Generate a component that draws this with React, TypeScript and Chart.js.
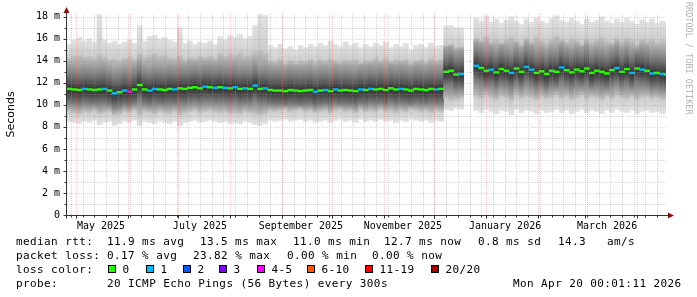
import React, { useEffect, useRef } from 'react';
import { Chart, registerables } from 'chart.js';

Chart.register(...registerables);

// x positions: days relative to 2025-05-01 (UTC), one column every 3 days
const START_DAY = -4;
const STEP_DAYS = 3;
const X_MIN = -5.4;
const X_MAX = 352.3;

// values in ms (axis shows "m" = milli-seconds)
const MAX: (number | null)[] = [
  15.5, 15.9, 16.1, 15.8, 16.0, 15.7, 18.2, 15.9, 15.6, 15.8,
  15.5, 15.7, 15.9, 15.6, 17.2, 15.8, 16.2, 16.3, 16.0, 16.1,
  15.9, 15.7, 17.0, 15.6, 15.8, 15.5, 15.7, 15.6, 15.8, 15.5,
  16.2, 15.9, 16.3, 16.1, 16.4, 16.0, 16.2, 17.2, 18.2, 18.1,
  15.4, 15.2, 15.5, 15.1, 15.3, 15.0, 15.4, 15.2, 15.5, 15.3,
  15.6, 15.4, 15.8, 15.5, 15.3, 15.7, 15.4, 15.6, 15.2, 15.5,
  15.3, 15.6, 15.4, 15.7, 15.2, 15.5, 15.3, 15.6, 15.0, 15.4,
  15.5, 15.2, 15.6, 15.3, 15.4,
  17.2, 17.2, 17.0, 17.0,
  null, null,
  17.9, 17.6, 18.1, 17.5, 17.8, 17.4, 17.7, 18.0, 17.6, 17.3,
  17.8, 17.5, 17.9, 17.6, 17.4, 17.8, 18.1, 17.7, 17.5, 17.9,
  17.6, 17.3, 17.8, 17.5, 17.7, 18.0, 17.6, 17.4, 17.8, 17.5,
  17.9, 17.6, 17.3, 17.7, 17.5, 17.8, 17.4, 17.6, 17.5,
];

const HI: (number | null)[] = [
  14.2, 14.4, 14.5, 14.3, 14.4, 14.2, 14.6, 14.3, 14.1, 14.2,
  14.0, 14.2, 14.3, 14.1, 14.6, 14.3, 14.5, 14.6, 14.4, 14.5,
  14.3, 14.2, 14.5, 14.1, 14.3, 14.2, 14.4, 14.3, 14.4, 14.2,
  14.6, 14.4, 14.6, 14.5, 14.7, 14.4, 14.5, 14.8, 14.9, 14.7,
  14.0, 13.9, 14.1, 13.8, 14.0, 13.8, 14.0, 13.9, 14.1, 13.9,
  14.1, 14.0, 14.2, 14.0, 13.9, 14.1, 14.0, 14.1, 13.8, 14.0,
  14.0, 14.2, 14.0, 14.2, 13.9, 14.1, 14.0, 14.1, 13.8, 14.0,
  14.1, 13.9, 14.2, 14.0, 14.1,
  15.4, 15.5, 15.2, 15.3,
  null, null,
  16.0, 15.8, 16.2, 15.7, 15.9, 15.6, 15.9, 16.1, 15.8, 15.5,
  16.0, 15.7, 16.1, 15.8, 15.6, 15.9, 16.2, 15.9, 15.7, 16.0,
  15.8, 15.5, 15.9, 15.7, 15.9, 16.1, 15.8, 15.6, 16.0, 15.7,
  16.0, 15.8, 15.5, 15.9, 15.7, 15.9, 15.6, 15.8, 15.7,
];

const MEDIAN: (number | null)[] = [
  11.45, 11.4, 11.35, 11.45, 11.4, 11.35, 11.4, 11.45, 11.3, 11.05,
  11.15, 11.3, 11.2, 11.4, 11.8, 11.4, 11.3, 11.45, 11.4, 11.35,
  11.45, 11.4, 11.5, 11.45, 11.55, 11.6, 11.5, 11.65, 11.6, 11.55,
  11.6, 11.55, 11.5, 11.6, 11.45, 11.5, 11.45, 11.75, 11.45, 11.5,
  11.35, 11.3, 11.3, 11.25, 11.35, 11.3, 11.25, 11.3, 11.35, 11.2,
  11.3, 11.35, 11.25, 11.4, 11.3, 11.35, 11.3, 11.25, 11.4, 11.35,
  11.45, 11.4, 11.45, 11.35, 11.5, 11.4, 11.45, 11.4, 11.3, 11.45,
  11.4, 11.35, 11.45, 11.4, 11.45,
  13.0, 13.1, 12.75, 12.8,
  null, null,
  13.55, 13.35, 13.1, 13.2, 12.95, 13.25, 13.1, 12.9, 13.3, 13.0,
  13.45, 13.2, 12.9, 13.05, 12.8, 13.1, 13.0, 13.4, 13.15, 12.95,
  13.2, 13.05, 13.3, 12.9, 13.1, 13.0, 12.85, 13.15, 13.35, 13.0,
  13.25, 12.9, 13.3, 13.2, 13.1, 12.85, 12.9, 12.8, 12.75,
];

const LO: (number | null)[] = [
  9.4, 9.3, 9.2, 9.4, 9.3, 9.5, 9.2, 9.3, 9.4, 9.1,
  9.2, 9.4, 9.3, 9.5, 9.1, 9.4, 9.3, 9.2, 9.4, 9.3,
  9.2, 9.4, 9.1, 9.3, 9.4, 9.5, 9.3, 9.4, 9.5, 9.4,
  9.3, 9.4, 9.2, 9.3, 9.2, 9.4, 9.3, 9.2, 9.1, 9.2,
  9.5, 9.4, 9.5, 9.6, 9.4, 9.5, 9.6, 9.4, 9.5, 9.3,
  9.4, 9.5, 9.3, 9.5, 9.6, 9.4, 9.5, 9.3, 9.6, 9.4,
  9.5, 9.4, 9.6, 9.4, 9.5, 9.3, 9.5, 9.4, 9.6, 9.5,
  9.4, 9.5, 9.3, 9.5, 9.4,
  10.6, 10.4, 10.5, 10.6,
  null, null,
  10.8, 10.6, 10.9, 10.7, 10.5, 10.8, 10.7, 10.4, 10.9, 10.6,
  10.8, 10.7, 10.5, 10.8, 10.6, 10.7, 10.9, 10.6, 10.8, 10.5,
  10.7, 10.9, 10.6, 10.8, 10.7, 10.5, 10.8, 10.6, 10.9, 10.7,
  10.6, 10.8, 10.5, 10.7, 10.8, 10.6, 10.7, 10.5, 10.6,
];

const MIN: (number | null)[] = [
  8.5, 8.4, 8.3, 8.5, 8.4, 8.6, 8.2, 8.4, 8.5, 8.1,
  8.3, 8.5, 8.4, 8.6, 8.1, 8.5, 8.4, 8.3, 8.5, 8.4,
  8.3, 8.5, 8.1, 8.4, 8.5, 8.6, 8.4, 8.5, 8.6, 8.5,
  8.4, 8.5, 8.3, 8.4, 8.3, 8.5, 8.4, 8.2, 8.1, 8.3,
  8.6, 8.5, 8.6, 8.7, 8.5, 8.6, 8.7, 8.5, 8.6, 8.4,
  8.5, 8.6, 8.4, 8.6, 8.7, 8.5, 8.6, 8.4, 8.7, 8.5,
  8.6, 8.5, 8.7, 8.5, 8.6, 8.4, 8.6, 8.5, 8.7, 8.6,
  8.5, 8.6, 8.4, 8.6, 8.5,
  9.6, 9.5, 9.7, 9.6,
  null, null,
  9.5, 9.3, 9.6, 9.4, 9.2, 9.5, 9.4, 9.1, 9.6, 9.3,
  9.5, 9.4, 9.2, 9.5, 9.3, 9.4, 9.6, 9.3, 9.5, 9.2,
  9.4, 9.6, 9.3, 9.5, 9.4, 9.2, 9.5, 9.3, 9.6, 9.4,
  9.3, 9.5, 9.2, 9.4, 9.5, 9.3, 9.4, 9.2, 9.3,
];

// lost pings (of 20) per column
const LOSS: number[] = [
  0, 0, 0, 1, 0, 0, 0, 1, 0, 1,
  0, 1, 4, 0, 0, 0, 1, 1, 0, 0,
  0, 1, 0, 0, 0, 0, 0, 1, 0, 1,
  0, 1, 0, 1, 0, 1, 0, 1, 0, 1,
  0, 0, 0, 0, 0, 0, 0, 0, 0, 1,
  0, 1, 0, 1, 0, 0, 0, 0, 1, 0,
  1, 0, 0, 0, 0, 0, 1, 0, 0, 0,
  0, 0, 0, 1, 0,
  0, 0, 0, 1,
  0, 0,
  1, 0, 0, 1, 0, 0, 0, 1, 0, 0,
  1, 1, 0, 0, 0, 0, 0, 1, 0, 0,
  0, 0, 0, 0, 0, 0, 0, 0, 1, 0,
  0, 1, 0, 1, 0, 1, 0, 1, 0,
];

const LOSS_LEVELS = ['0', '1', '2', '3', '4-5', '6-10', '11-19', '20/20'];
const LOSS_COLORS = ['#26ff00', '#00b8ff', '#0059ff', '#7e00ff', '#ff00ff', '#ff5500', '#ff0000', '#a10000'];

const X_LABEL_DAYS = [14.9, 74.0, 134.3, 195.2, 256.2, 317.1];
const X_LABELS = ['May 2025', 'July 2025', 'September 2025', 'November 2025', 'January 2026', 'March 2026'];

const MEDIAN_HALF = 0.08;
const MINOR_GRID = 'rgba(150,150,150,0.4)';
const MAJOR_GRID = 'rgba(240,90,90,0.3)';
const AXIS_COLOR = '#333333';
const ARROW_COLOR = '#8a1010';

function dayOf(k: number) {
  return START_DAY + k * STEP_DAYS;
}

function lossColor(n: number) {
  if (n <= 3) return LOSS_COLORS[n];
  if (n <= 5) return LOSS_COLORS[4];
  if (n <= 10) return LOSS_COLORS[5];
  if (n <= 19) return LOSS_COLORS[6];
  return LOSS_COLORS[7];
}

const CORE_STOPS: [number, string][] = [
  [2.2, '#a2a2a2'],
  [1.3, '#7a7a7a'],
  [0.6, '#545454'],
  [0, '#303030'],
  [-0.6, '#4e4e4e'],
  [-1.2, '#787878'],
];

function outerFill(c: any) {
  const raw = c.raw;
  if (!raw) return '#dcdcdc';
  const k = raw.k;
  const ys = c.chart.scales.y;
  const top = ys.getPixelForValue(MAX[k]);
  const bot = ys.getPixelForValue(MIN[k]);
  if (!(bot > top)) return '#dcdcdc';
  const f = (v: number) => Math.min(1, Math.max(0, (ys.getPixelForValue(v) - top) / (bot - top)));
  const g = c.chart.ctx.createLinearGradient(0, top, 0, bot);
  g.addColorStop(0, '#e2e2e2');
  g.addColorStop(f(HI[k] as number), '#cbcbcb');
  g.addColorStop(f(LO[k] as number), '#cbcbcb');
  g.addColorStop(1, '#e2e2e2');
  return g;
}

function innerFill(c: any) {
  const raw = c.raw;
  if (!raw) return '#888888';
  const k = raw.k;
  const ys = c.chart.scales.y;
  const hi = HI[k] as number;
  const lo = LO[k] as number;
  const med = MEDIAN[k] as number;
  const top = ys.getPixelForValue(hi);
  const bot = ys.getPixelForValue(lo);
  if (!(bot > top)) return '#888888';
  const f = (v: number) => Math.min(1, Math.max(0, (ys.getPixelForValue(v) - top) / (bot - top)));
  const g = c.chart.ctx.createLinearGradient(0, top, 0, bot);
  g.addColorStop(0, '#c0c0c0');
  for (const [d, col] of CORE_STOPS) {
    const v = med + d;
    if (v < hi && v > lo) g.addColorStop(f(v), col);
  }
  g.addColorStop(1, '#c0c0c0');
  return g;
}

const gridPlugin = {
  id: 'rrdGrid',
  afterDatasetsDraw(chart: any) {
    const { ctx, chartArea: a, scales } = chart;
    const xs = scales.x;
    const ys = scales.y;
    ctx.save();
    ctx.lineWidth = 1;
    ctx.setLineDash([1, 1]);
    const yt: number[] = ys.ticks.map((t: any) => t.value);
    const hLines: [number, boolean][] = [];
    yt.forEach((v: number) => {
      if (v > 0) hLines.push([v, true]);
      hLines.push([v + 1, false]);
    });
    for (const [v, major] of hLines) {
      if (v <= 0 || v > ys.max) continue;
      const py = Math.round(ys.getPixelForValue(v)) + 0.5;
      ctx.strokeStyle = major ? MAJOR_GRID : MINOR_GRID;
      ctx.beginPath();
      ctx.moveTo(a.left, py);
      ctx.lineTo(a.right, py);
      ctx.stroke();
    }
    const base = Date.UTC(2025, 4, 1);
    const months: number[] = [];
    for (let i = 0; i < 15; i++) {
      const d = (Date.UTC(2025, 3 + i, 1) - base) / 864e5;
      if (d > X_MIN && d < X_MAX) months.push(d);
    }
    const weeks: number[] = [];
    for (let d = -3; d < X_MAX; d += 7) if (d > X_MIN) weeks.push(d);
    const vline = (d: number, col: string) => {
      const px = Math.round(xs.getPixelForValue(d)) + 0.5;
      ctx.strokeStyle = col;
      ctx.beginPath();
      ctx.moveTo(px, a.top);
      ctx.lineTo(px, a.bottom);
      ctx.stroke();
    };
    weeks.forEach((d) => vline(d, MINOR_GRID));
    months.forEach((d) => vline(d, MAJOR_GRID));
    ctx.setLineDash([]);

    const bx = Math.round(a.left) - 0.5;
    const by = Math.round(a.bottom) + 0.5;
    ctx.strokeStyle = AXIS_COLOR;
    for (const [v, major] of hLines) {
      if (v < 0 || v > ys.max) continue;
      const py = Math.round(ys.getPixelForValue(v)) + 0.5;
      ctx.beginPath();
      ctx.moveTo(bx - (major ? 3 : 2), py);
      ctx.lineTo(bx, py);
      ctx.stroke();
    }
    for (const d of weeks.concat(months)) {
      const px = Math.round(xs.getPixelForValue(d)) + 0.5;
      ctx.beginPath();
      ctx.moveTo(px, by);
      ctx.lineTo(px, by + (months.includes(d) ? 3 : 2));
      ctx.stroke();
    }
    ctx.beginPath();
    ctx.moveTo(bx, by + 3);
    ctx.lineTo(bx, a.top - 4);
    ctx.moveTo(bx - 3, by);
    ctx.lineTo(a.right + 3, by);
    ctx.stroke();
    ctx.fillStyle = ARROW_COLOR;
    ctx.beginPath();
    ctx.moveTo(bx - 3, a.top - 1);
    ctx.lineTo(bx + 3, a.top - 1);
    ctx.lineTo(bx, a.top - 7);
    ctx.closePath();
    ctx.fill();
    ctx.beginPath();
    ctx.moveTo(a.right + 2, by - 3);
    ctx.lineTo(a.right + 2, by + 3);
    ctx.lineTo(a.right + 8, by);
    ctx.closePath();
    ctx.fill();
    ctx.restore();
  },
};

const MONO = '"DejaVu Sans Mono", monospace';

type Piece = [number, number, string];
const LEGEND_PIECES: Piece[] = [
  [16, 245, 'median rtt:'],
  [107, 245, '11.9 ms avg'],
  [200, 245, '13.5 ms max'],
  [293, 245, '11.0 ms min'],
  [384, 245, '12.7 ms now'],
  [478, 245, '0.8 ms sd'],
  [558, 245, '14.3'],
  [607, 245, 'am/s'],
  [16, 259, 'packet loss:'],
  [107, 259, '0.17 % avg'],
  [193, 259, '23.82 % max'],
  [287, 259, '0.00 % min'],
  [372, 259, '0.00 % now'],
  [16, 273, 'loss color:'],
  [16, 287, 'probe:'],
  [107, 287, '20 ICMP Echo Pings (56 Bytes) every 300s'],
  [513, 287, 'Mon Apr 20 00:01:11 2026'],
];
const SWATCH_X = [108, 146, 183, 219, 257, 307, 365, 431];

export default function App() {
  const ref = useRef<HTMLCanvasElement>(null);

  useEffect(() => {
    const canvas = ref.current;
    if (!canvas) return;
    const ks = MEDIAN.map((_, k) => k);
    const outer = ks.filter((k) => MAX[k] != null).map((k) => ({ x: dayOf(k), y: [MIN[k], MAX[k]], k }));
    const inner = ks.filter((k) => HI[k] != null).map((k) => ({ x: dayOf(k), y: [LO[k], HI[k]], k }));
    const medKs = ks.filter((k) => MEDIAN[k] != null);
    const med = medKs.map((k) => ({
      x: dayOf(k),
      y: [(MEDIAN[k] as number) - MEDIAN_HALF, (MEDIAN[k] as number) + MEDIAN_HALF],
      k,
    }));
    const medColors = medKs.map((k) => lossColor(LOSS[k]));

    const common = {
      barPercentage: 1,
      categoryPercentage: 1,
      grouped: false,
      borderWidth: 0,
      borderSkipped: false,
      clip: 0,
    };

    const chart = new Chart(canvas, {
      type: 'bar',
      data: {
        datasets: [
          { ...common, label: 'smoke', data: outer as any, backgroundColor: outerFill as any, order: 3 },
          { ...common, label: 'smoke core', data: inner as any, backgroundColor: innerFill as any, order: 2 },
          { ...common, label: 'median rtt', data: med as any, backgroundColor: medColors, order: 1 },
        ],
      },
      options: {
        responsive: false,
        animation: false,
        devicePixelRatio: 1,
        events: [],
        layout: { padding: { left: 0, top: 14, right: 31, bottom: 0 } },
        plugins: { legend: { display: false }, tooltip: { enabled: false } },
        scales: {
          x: {
            type: 'linear',
            offset: false,
            min: X_MIN,
            max: X_MAX,
            grid: { display: false, drawTicks: false, offset: false },
            border: { display: false },
            afterBuildTicks: (s: any) => {
              s.ticks = X_LABEL_DAYS.map((v) => ({ value: v }));
            },
            afterFit: (s: any) => {
              s.height = 82;
            },
            ticks: {
              autoSkip: false,
              maxRotation: 0,
              minRotation: 0,
              padding: 5,
              color: '#000',
              font: { family: MONO, size: 10 },
              callback: (_v: any, i: number) => X_LABELS[i],
            },
          },
          y: {
            type: 'linear',
            min: 0,
            max: 18.25,
            grid: { display: false, drawTicks: false },
            border: { display: false },
            afterFit: (s: any) => {
              s.width = 67;
            },
            ticks: {
              stepSize: 2,
              includeBounds: false,
              padding: 7,
              color: '#000',
              font: { family: MONO, size: 10 },
              callback: (v: any) => (Number(v) === 0 ? '0' : `${v} m`),
            },
            title: {
              display: true,
              text: 'Seconds',
              color: '#000',
              font: { family: '"DejaVu Sans", sans-serif', size: 11 },
              padding: { top: 4.4, bottom: 0 },
            },
          },
        },
      },
      plugins: [gridPlugin],
    } as any);
    return () => chart.destroy();
  }, []);

  const txt = (x: number, base: number, s: string, key: string) => (
    <div
      key={key}
      style={{
        position: 'absolute',
        left: x,
        top: base - 10.5,
        fontFamily: MONO,
        fontSize: 11,
        lineHeight: '14px',
        height: 14,
        letterSpacing: '0.4px',
        whiteSpace: 'pre',
        color: '#000',
      }}
    >
      {s}
    </div>
  );

  return (
    <div
      style={{
        position: 'fixed',
        left: 0,
        top: 0,
        width: 697,
        height: 297,
        background: '#fff',
        overflow: 'hidden',
      }}
    >
      <canvas
        ref={ref}
        width={697}
        height={297}
        style={{ position: 'absolute', left: 0, top: 0, width: 697, height: 297 }}
      />
      {LEGEND_PIECES.map(([x, b, s], i) => txt(x, b, s, 'p' + i))}
      {SWATCH_X.map((x, i) => (
        <React.Fragment key={'s' + i}>
          <div
            style={{
              position: 'absolute',
              left: x,
              top: 265,
              width: 8,
              height: 8,
              boxSizing: 'border-box',
              border: '1px solid #000',
              background: LOSS_COLORS[i],
            }}
          />
          {txt(x + 14.5, 273, LOSS_LEVELS[i], 'l' + i)}
        </React.Fragment>
      ))}
      <div
        style={{
          position: 'absolute',
          left: 692.5,
          top: 2,
          transform: 'rotate(90deg)',
          transformOrigin: '0 0',
          fontFamily: MONO,
          fontSize: 8.5,
          lineHeight: '8.5px',
          whiteSpace: 'pre',
          color: '#b0b0b0',
        }}
      >
        RRDTOOL / TOBI OETIKER
      </div>
    </div>
  );
}
